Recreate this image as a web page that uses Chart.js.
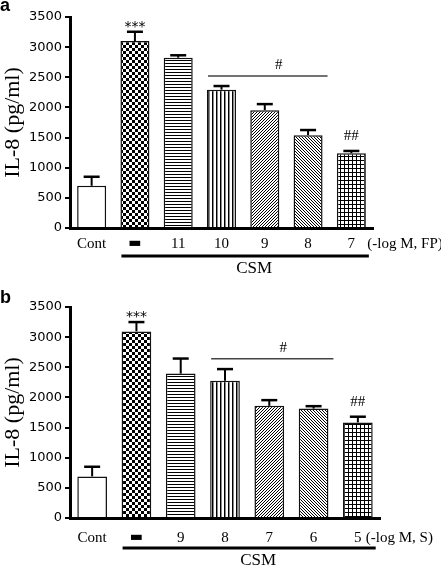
<!DOCTYPE html>
<html>
<head>
<meta charset="utf-8">
<script src="https://cdn.jsdelivr.net/npm/chart.js@4.4.1/dist/chart.umd.min.js"></script>
<style>
  body { margin: 0; background: #fff; width: 441px; height: 567px; overflow: hidden; position: relative; }
  .panel { position: absolute; left: 0; width: 441px; }
  #pa { top: 0; height: 280px; }
  #pb { top: 280px; height: 287px; }
</style>
</head>
<body>
<div class="panel" id="pa"><canvas id="chartA" width="441" height="280"></canvas></div>
<div class="panel" id="pb"><canvas id="chartB" width="441" height="287"></canvas></div>
<script>
// panel a: fluticasone (FP) doses, panel b: salmeterol (S) doses
const catsA = ['Cont', '\u25AC', '11', '10', '9', '8', '7'];
const valsA = [700, 3100, 2825, 2295, 1955, 1540, 1240];
const errA  = [150, 155, 40, 60, 100, 85, 38];

const catsB = ['Cont', '\u25AC', '9', '8', '7', '6', '5'];
const valsB = [690, 3095, 2395, 2275, 1860, 1815, 1585];
const errB  = [160, 155, 250, 195, 95, 40, 95];

const yTicks = [0, 500, 1000, 1500, 2000, 2500, 3000, 3500];
const sigLineA = 2520;   // level of the "#" bracket
const sigLineB = 2640;

function makePattern(size, draw) {
  const c = document.createElement('canvas');
  c.width = size; c.height = size;
  const g = c.getContext('2d');
  g.fillStyle = '#fff';
  g.fillRect(0, 0, size, size);
  g.fillStyle = '#000';
  g.strokeStyle = '#000';
  draw(g, size);
  return g.createPattern(c, 'repeat');
}

const fills = [
  '#fff',
  makePattern(6, g => { g.fillRect(0, 0, 3, 3); g.fillRect(3, 3, 3, 3); }),
  makePattern(3, g => { g.fillRect(0, 0, 3, 1); }),
  makePattern(4, g => { g.fillRect(0, 0, 1, 4); g.fillStyle = '#888'; g.fillRect(1, 0, 1, 4); }),
  makePattern(3, (g, n) => {
    g.lineWidth = 1;
    g.beginPath();
    g.moveTo(0, n); g.lineTo(n, 0);
    g.moveTo(-1, 1); g.lineTo(1, -1);
    g.moveTo(n - 1, n + 1); g.lineTo(n + 1, n - 1);
    g.stroke();
  }),
  makePattern(3, (g, n) => {
    g.lineWidth = 1;
    g.beginPath();
    g.moveTo(0, 0); g.lineTo(n, n);
    g.moveTo(n - 1, -1); g.lineTo(n + 1, 1);
    g.moveTo(-1, n - 1); g.lineTo(1, n + 1);
    g.stroke();
  }),
  makePattern(4, g => { g.fillRect(0, 0, 4, 1); g.fillRect(0, 0, 1, 4); })
];

// error bars, significance marks, group line and panel letter
const decorations = {
  id: 'decorations',
  afterDatasetsDraw(chart, args, opts) {
    const ctx = chart.ctx;
    const x = chart.scales.x, y = chart.scales.y;
    const meta = chart.getDatasetMeta(0);
    const vals = opts.vals, errs = opts.errs;
    ctx.save();
    ctx.strokeStyle = '#000';
    ctx.fillStyle = '#000';
    // upper error bars
    vals.forEach((v, i) => {
      const cx = x.getPixelForValue(i);
      const y0 = y.getPixelForValue(v);
      const y1 = y.getPixelForValue(v + errs[i]);
      ctx.lineWidth = 2;
      ctx.beginPath();
      ctx.moveTo(cx, y0); ctx.lineTo(cx, y1);
      ctx.stroke();
      ctx.lineWidth = 2.5;
      ctx.beginPath();
      ctx.moveTo(cx - 8, y1); ctx.lineTo(cx + 8, y1);
      ctx.stroke();
    });
    const capY = i => y.getPixelForValue(vals[i] + errs[i]);
    const half = meta.data[0].width / 2;
    ctx.textAlign = 'center';
    ctx.textBaseline = 'alphabetic';
    // *** over CSM alone
    ctx.font = '14px "DejaVu Sans"';
    ctx.fillText('***', x.getPixelForValue(1), capY(1) - 1);
    // # bracket over bars 3..5
    const lx0 = x.getPixelForValue(3) - half + 1;
    const lx1 = x.getPixelForValue(5) + half + 5;
    const ly = y.getPixelForValue(opts.sigLine);
    ctx.lineWidth = 1.5;
    ctx.strokeStyle = '#444';
    ctx.beginPath();
    ctx.moveTo(lx0, ly); ctx.lineTo(lx1, ly);
    ctx.stroke();
    ctx.font = '15px "Liberation Serif"';
    ctx.fillText('#', (lx0 + lx1) / 2 + 11, ly - 7);
    // ## over highest dose
    const last = vals.length - 1;
    ctx.fillText('##', x.getPixelForValue(last), capY(last) - 11);
    // unit label, on the tick label line
    ctx.textAlign = 'left';
    ctx.font = opts.unitSize + 'px "Liberation Serif"';
    ctx.fillText(opts.unit, x.getPixelForValue(last) + opts.unitDx, y.bottom + opts.xpad + 13);
    // CSM group line
    const gx0 = x.getPixelForValue(1) - half + 1;
    const gx1 = x.getPixelForValue(last) + half + 3;
    const gy = y.bottom + opts.groupDy;
    ctx.strokeStyle = '#000';
    ctx.lineWidth = 3;
    ctx.beginPath();
    ctx.moveTo(gx0, gy); ctx.lineTo(gx1, gy);
    ctx.stroke();
    ctx.textAlign = 'center';
    ctx.font = '17px "Liberation Serif"';
    ctx.fillText('CSM', (gx0 + gx1) / 2 + 9, gy + 17);
    // panel letter
    ctx.textAlign = 'left';
    ctx.font = 'bold 18px "Liberation Sans"';
    ctx.fillText(opts.letter, 0, opts.letterY);
    ctx.restore();
  }
};

function build(id, cats, vals, errs, o) {
  return new Chart(document.getElementById(id), {
    type: 'bar',
    data: {
      labels: cats,
      datasets: [{
        data: vals,
        backgroundColor: fills,
        borderColor: '#111',
        borderWidth: 1.5,
        borderSkipped: 'bottom',
        categoryPercentage: 1,
        barPercentage: 0.67
      }]
    },
    options: {
      responsive: false,
      animation: false,
      layout: { padding: { top: o.top, right: o.right, left: 0, bottom: 0 } },
      plugins: {
        legend: { display: false },
        tooltip: { enabled: false },
        decorations: {
          vals: vals, errs: errs, sigLine: o.sigLine, unit: o.unit, unitDx: o.unitDx,
          unitSize: o.unitSize, xpad: o.xpad, groupDy: o.groupDy, letter: o.letter, letterY: o.letterY
        }
      },
      scales: {
        x: {
          grid: { display: false, drawTicks: false, tickLength: 0 },
          border: { display: true, color: '#000', width: 3 },
          ticks: {
            color: '#000',
            padding: o.xpad,
            maxRotation: 0,
            autoSkip: false,
            font: c => c.index === 1
              ? { family: '"DejaVu Sans"', size: 14 }
              : { family: '"Liberation Serif"', size: 15 }
          },
          afterFit: s => { s.height = o.xh; }
        },
        y: {
          min: 0,
          max: 3500,
          afterBuildTicks: s => { s.ticks = yTicks.map(v => ({ value: v })); },
          grid: { drawOnChartArea: false, drawTicks: true, tickLength: 5, color: '#000', lineWidth: 2 },
          border: { display: true, color: '#000', width: 3 },
          ticks: {
            color: '#000',
            padding: 3,
            font: { family: '"DejaVu Sans"', size: 13 },
            callback: v => String(v)
          },
          title: { display: true, text: 'IL-8 (pg/ml)', color: '#000', padding: 0, font: { family: '"Liberation Serif"', size: 22 } },
          afterFit: s => { s.width = 70; }
        }
      }
    },
    plugins: [decorations]
  });
}

build('chartA', catsA, valsA, errA, { top: 17, right: 68, xh: 52, xpad: 7, groupDy: 28, sigLine: sigLineA, unit: '(-log M, FP)', unitDx: 16, unitSize: 15, letter: 'a', letterY: 11 });
build('chartB', catsB, valsB, errB, { top: 27, right: 61, xh: 49, xpad: 11, groupDy: 30, sigLine: sigLineB, unit: '(-log M, S)', unitDx: 8, unitSize: 15, letter: 'b', letterY: 23 });
</script>
</body>
</html>
